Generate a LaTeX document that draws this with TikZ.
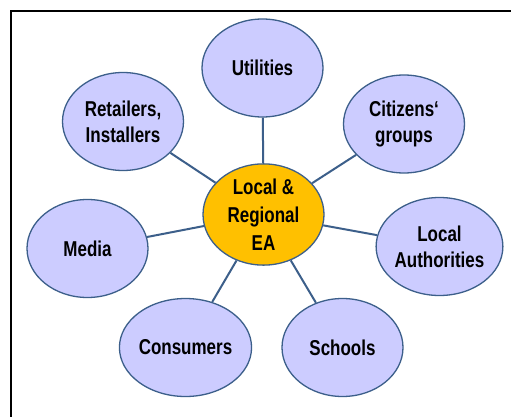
\documentclass[tikz,border=0pt]{standalone}
\usepackage{fontspec}
\setmainfont[FakeStretch=0.79]{Liberation Sans}
\usetikzlibrary{shapes.geometric}
\definecolor{edgeblue}{HTML}{3C5F8A}
\definecolor{lav}{HTML}{CCCCFF}
\definecolor{gold}{HTML}{FFC000}
\tikzset{
  bubble/.style={ellipse, draw=edgeblue, line width=1.3pt, fill=lav,
    minimum width=121pt, minimum height=98pt, inner sep=0pt, align=center,
    font=\fontsize{21.5}{26}\selectfont\bfseries},
  hub/.style={bubble, fill=gold, font=\fontsize{21.5}{28}\selectfont\bfseries},
  link/.style={draw=edgeblue, line width=2pt}
}
\begin{document}
\begin{tikzpicture}[x=1pt, y=-1pt]
\useasboundingbox (0,0) rectangle (511,417);
\fill[white] (0,0) rectangle (511,417);
\draw[black, line width=1.6pt] (10.8,430) -- (10.8,10.8) -- (530,10.8);
\node[hub] (c) at (263.5,214.5) {Local \&\\Regional\\EA};
\node[bubble] (u) at (262.5,68) {Utilities};
\node[bubble] (cg) at (404,124) {Citizens‘\\groups};
\node[bubble] (la) at (439.5,246.5) {Local\\Authorities};
\node[bubble] (s) at (342.5,347.5) {Schools};
\node[bubble] (co) at (185.5,347.5) {Consumers};
\node[bubble] (m) at (87.5,248.5) {Media};
\node[bubble] (r) at (123,121.5) {Retailers,\\Installers};
\foreach \n in {u,cg,la,s,co,m,r} \path[link] (c) -- (\n);
\end{tikzpicture}
\end{document}
